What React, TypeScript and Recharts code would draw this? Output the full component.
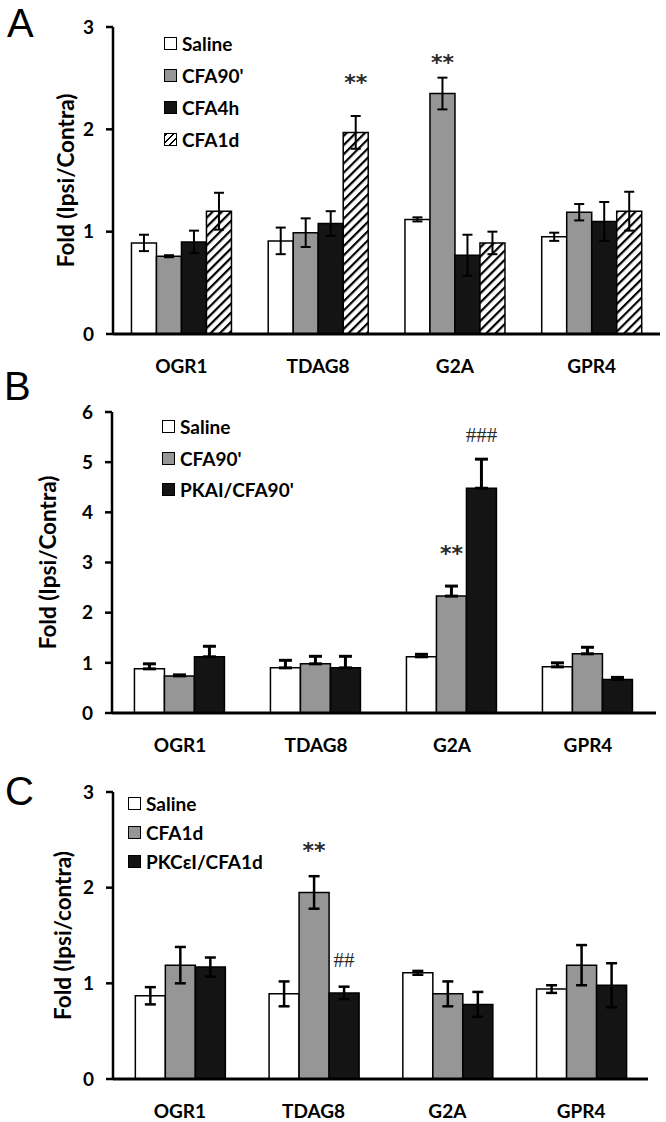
import { Bar, BarChart, ErrorBar, LabelList, Legend, XAxis, YAxis } from "recharts";

const genes = ["OGR1", "TDAG8", "G2A", "GPR4"];

// Panel A
const aSaline = [0.89, 0.91, 1.12, 0.95];
const aSalineErr = [0.08, 0.13, 0.02, 0.04];
const aCfa90 = [0.76, 0.99, 2.35, 1.19];
const aCfa90Err = [0.01, 0.14, 0.155, 0.08];
const aCfa4h = [0.9, 1.08, 0.77, 1.1];
const aCfa4hErr = [0.11, 0.12, 0.2, 0.19];
const aCfa1d = [1.2, 1.97, 0.89, 1.2];
const aCfa1dErr = [0.18, 0.16, 0.11, 0.19];
const aCfa90Mark = ["", "", "**", ""];
const aCfa90MarkAt = [0, 0, 2.71, 0];
const aCfa1dMark = ["", "**", "", ""];
const aCfa1dMarkAt = [0, 2.52, 0, 0];

// Panel B
const bSaline = [0.88, 0.9, 1.12, 0.92];
const bSalineErr = [0.1, 0.15, 0.05, 0.08];
const bCfa90 = [0.74, 0.98, 2.33, 1.18];
const bCfa90Err = [0.02, 0.15, 0.2, 0.13];
const bPkai = [1.12, 0.9, 4.48, 0.67];
const bPkaiErr = [0.21, 0.23, 0.58, 0.04];
const bCfa90Mark = ["", "", "**", ""];
const bCfa90MarkAt = [0, 0, 3.29, 0];
const bPkaiMark = ["", "", "###", ""];
const bPkaiMarkAt = [0, 0, 5.54, 0];

// Panel C
const cSaline = [0.87, 0.89, 1.11, 0.94];
const cSalineErr = [0.09, 0.13, 0.02, 0.04];
const cCfa1d = [1.19, 1.95, 0.89, 1.19];
const cCfa1dErr = [0.19, 0.17, 0.13, 0.21];
const cPkce = [1.17, 0.9, 0.78, 0.98];
const cPkceErr = [0.1, 0.065, 0.13, 0.23];
const cCfa1dMark = ["", "**", "", ""];
const cCfa1dMarkAt = [0, 2.45, 0, 0];
const cPkceMark = ["", "##", "", ""];
const cPkceMarkAt = [0, 1.24, 0, 0];

const none = ["", "", "", ""];
const zero = [0, 0, 0, 0];

const WHITE = "#ffffff";
const GRAY = "#969696";
const BLACK = "#141414";
const HATCH = "hatch";

const FONT = "Lato, 'Open Sans', sans-serif";

type Series = {
  key: string;
  name: string;
  fill: string;
  values: number[];
  errs: number[];
  marks: string[];
  markAt: number[];
  markFont?: "star" | "hash";
};

interface PanelProps {
  letter: string;
  letterLeft: number;
  letterTop: number;
  top: number;
  height: number;
  margin: { top: number; right: number; bottom: number; left: number };
  yWidth: number;
  yMax: number;
  yTicks: number[];
  yLabel: string;
  labelX: number;
  series: Series[];
  upOnly: boolean;
  capWidth: number;
  errStroke: number;
  gap: string;
  legendLeft: number;
  legendTop: number;
  legendRow: number;
}

function LegendBox({ fill }: { fill: string }) {
  const bg =
    fill === HATCH
      ? "repeating-linear-gradient(135deg, #000 0 2px, #fff 2px 5px)"
      : fill;
  return (
    <span
      style={{
        display: "inline-block",
        width: 11,
        height: 11,
        border: "1.5px solid #000",
        background: bg,
        marginRight: 5,
      }}
    />
  );
}

function Panel(p: PanelProps) {
  const rows = genes.map((gene, i) => {
    const row: Record<string, unknown> = { gene };
    p.series.forEach((s) => {
      row[s.key] = s.values[i];
      row[s.key + "Err"] = p.upOnly ? [0, s.errs[i]] : s.errs[i];
      row[s.key + "Mark"] = s.marks[i];
    });
    return row;
  });

  const markContent = (s: Series) => (props: any) => {
    const vb = props.viewBox ?? props;
    const x = vb.x ?? props.x;
    const y = vb.y ?? props.y;
    const w = vb.width ?? props.width;
    const h = vb.height ?? props.height;
    const idx = props.index;
    const text = props.value;
    if (!text) return null;
    const ppu = h / s.values[idx];
    const cy = y + h - s.markAt[idx] * ppu;
    const hash = s.markFont === "hash";
    return (
      <text
        x={x + w / 2}
        y={hash ? cy : cy + 6}
        textAnchor="middle"
        dominantBaseline="central"
        style={{
          fontFamily: hash ? "'Liberation Serif', serif" : "'DejaVu Sans', sans-serif",
          fontSize: hash ? 21 : 22,
          fontWeight: hash ? 400 : 700,
          fill: "#2a2a2a",
        }}
      >
        {text}
      </text>
    );
  };

  const yLabelContent = (props: any) => {
    const vb = props.viewBox;
    const cy = vb.y + vb.height / 2;
    return (
      <text
        transform={`translate(${p.labelX},${cy}) rotate(-90)`}
        textAnchor="middle"
        dominantBaseline="central"
        style={{ fontFamily: FONT, fontWeight: 700, fontSize: 22.5, fill: "#000" }}
      >
        {p.yLabel}
      </text>
    );
  };

  const renderLegend = () => (
    <div style={{ fontFamily: FONT, fontWeight: 700, fontSize: 19, color: "#000" }}>
      {p.series.map((s) => (
        <div
          key={s.key}
          style={{ display: "flex", alignItems: "center", height: p.legendRow, whiteSpace: "nowrap" }}
        >
          <LegendBox fill={s.fill} />
          {s.name}
        </div>
      ))}
    </div>
  );

  const tickStyle = { fontFamily: FONT, fontWeight: 700, fontSize: 19, fill: "#000" };

  return (
    <div style={{ position: "absolute", left: 0, top: p.top, width: 666, height: p.height }}>
      <div
        style={{
          position: "absolute",
          left: p.letterLeft,
          top: p.letterTop,
          fontFamily: "'Liberation Sans', Arial, sans-serif",
          fontSize: 40,
          lineHeight: 1,
          color: "#000",
        }}
      >
        {p.letter}
      </div>
      <BarChart
        width={666}
        height={p.height}
        data={rows}
        margin={p.margin}
        barGap={0}
        barCategoryGap={p.gap}
      >
        <defs>
          <pattern
            id={HATCH}
            width="6.5"
            height="6.5"
            patternUnits="userSpaceOnUse"
            patternTransform="rotate(45)"
          >
            <rect width="6.5" height="6.5" fill="#fff" />
            <line x1="1" y1="0" x2="1" y2="6.5" stroke="#000" strokeWidth="2.4" />
          </pattern>
        </defs>
        <XAxis
          dataKey="gene"
          interval={0}
          height={40}
          tickLine={false}
          tickSize={0}
          tickMargin={26}
          axisLine={{ stroke: "#000", strokeWidth: 3 }}
          tick={tickStyle}
        />
        <YAxis
          domain={[0, p.yMax]}
          ticks={p.yTicks}
          interval={0}
          width={p.yWidth}
          tickSize={7}
          tickMargin={12}
          axisLine={{ stroke: "#000", strokeWidth: 2.5 }}
          tickLine={{ stroke: "#000", strokeWidth: 2.5 }}
          tick={tickStyle}
          label={yLabelContent}
        />
        <Legend
          layout="horizontal"
          verticalAlign="middle"
          align="center"
          content={renderLegend}
          wrapperStyle={{ left: p.legendLeft, top: p.legendTop, width: "auto", height: "auto" }}
        />
        {p.series.map((s) => (
          <Bar
            key={s.key}
            dataKey={s.key}
            name={s.name}
            fill={s.fill === HATCH ? `url(#${HATCH})` : s.fill}
            stroke="#000"
            strokeWidth={1.5}
            isAnimationActive={false}
          >
            <ErrorBar
              dataKey={s.key + "Err"}
              direction="y"
              width={p.capWidth}
              stroke="#000"
              strokeWidth={p.errStroke}
              isAnimationActive={false}
            />
            <LabelList dataKey={s.key + "Mark"} content={markContent(s)} />
          </Bar>
        ))}
      </BarChart>
    </div>
  );
}

const seriesA: Series[] = [
  { key: "saline", name: "Saline", fill: WHITE, values: aSaline, errs: aSalineErr, marks: none, markAt: zero },
  { key: "cfa90", name: "CFA90'", fill: GRAY, values: aCfa90, errs: aCfa90Err, marks: aCfa90Mark, markAt: aCfa90MarkAt },
  { key: "cfa4h", name: "CFA4h", fill: BLACK, values: aCfa4h, errs: aCfa4hErr, marks: none, markAt: zero },
  { key: "cfa1d", name: "CFA1d", fill: HATCH, values: aCfa1d, errs: aCfa1dErr, marks: aCfa1dMark, markAt: aCfa1dMarkAt },
];

const seriesB: Series[] = [
  { key: "saline", name: "Saline", fill: WHITE, values: bSaline, errs: bSalineErr, marks: none, markAt: zero },
  { key: "cfa90", name: "CFA90'", fill: GRAY, values: bCfa90, errs: bCfa90Err, marks: bCfa90Mark, markAt: bCfa90MarkAt },
  { key: "pkai", name: "PKAI/CFA90'", fill: BLACK, values: bPkai, errs: bPkaiErr, marks: bPkaiMark, markAt: bPkaiMarkAt, markFont: "hash" },
];

const seriesC: Series[] = [
  { key: "saline", name: "Saline", fill: WHITE, values: cSaline, errs: cSalineErr, marks: none, markAt: zero },
  { key: "cfa1d", name: "CFA1d", fill: GRAY, values: cCfa1d, errs: cCfa1dErr, marks: cCfa1dMark, markAt: cCfa1dMarkAt },
  { key: "pkce", name: "PKCεI/CFA1d", fill: BLACK, values: cPkce, errs: cPkceErr, marks: cPkceMark, markAt: cPkceMarkAt, markFont: "hash" },
];

export default function App() {
  return (
    <div style={{ position: "absolute", left: 0, top: 0, width: 666, height: 1122, background: "#fff" }}>
      <Panel
        letter="A"
        letterLeft={7}
        letterTop={3}
        top={0}
        height={380}
        margin={{ top: 27, right: 6, bottom: 6, left: 0 }}
        yWidth={113}
        yMax={3}
        yTicks={[0, 1, 2, 3]}
        yLabel="Fold (Ipsi/Contra)"
        labelX={65}
        series={seriesA}
        upOnly={false}
        capWidth={5}
        errStroke={2}
        gap="13.5%"
        legendLeft={164}
        legendTop={27}
        legendRow={32}
      />
      <Panel
        letter="B"
        letterLeft={4}
        letterTop={-14}
        top={380}
        height={380}
        margin={{ top: 32, right: 10, bottom: 7, left: 0 }}
        yWidth={112}
        yMax={6}
        yTicks={[0, 1, 2, 3, 4, 5, 6]}
        yLabel="Fold (Ipsi/Contra)"
        labelX={47}
        series={seriesB}
        upOnly={true}
        capWidth={6.5}
        errStroke={3}
        gap="16.5%"
        legendLeft={162}
        legendTop={31}
        legendRow={31.5}
      />
      <Panel
        letter="C"
        letterLeft={5}
        letterTop={11}
        top={760}
        height={362}
        margin={{ top: 32, right: 18, bottom: 3, left: 0 }}
        yWidth={113}
        yMax={3}
        yTicks={[0, 1, 2, 3]}
        yLabel="Fold (Ipsi/contra)"
        labelX={62}
        series={seriesC}
        upOnly={false}
        capWidth={5.5}
        errStroke={2.5}
        gap="16.7%"
        legendLeft={128}
        legendTop={28.5}
        legendRow={29}
      />
    </div>
  );
}
